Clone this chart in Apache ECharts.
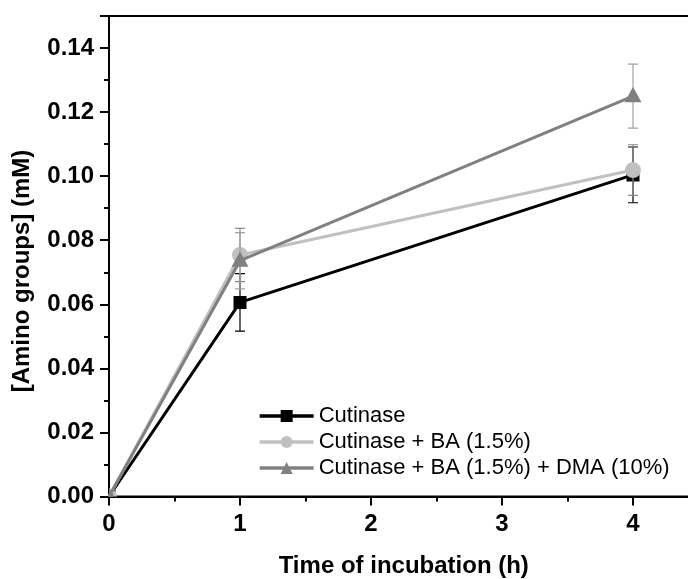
<!DOCTYPE html>
<html>
<head>
<meta charset="utf-8">
<script src="https://cdn.jsdelivr.net/npm/echarts@6/dist/echarts.min.js"></script>
<style>
  html, body { margin: 0; padding: 0; background: #fff; }
  #chart { width: 688px; height: 579px; }
</style>
</head>
<body>
<div id="chart"></div>
<script>
// Incubation time (h)
const hours = [0, 1, 4];

// Amino group concentration (mM) and error (±) for each condition
const cutinase = [0, 0.0606, 0.1004];
const cutinaseErr = [0, 0.0090, 0.0087];

const cutinaseBA = [0, 0.0754, 0.1019];
const cutinaseBAErr = [0, 0.0083, 0.0079];

const cutinaseBADMA = [0, 0.0736, 0.1250];
const cutinaseBADMAErr = [0, 0.0088, 0.0100];

const seriesNames = [
  'Cutinase',
  'Cutinase + BA (1.5%)',
  'Cutinase + BA (1.5%) + DMA (10%)'
];

const FONT = '"Liberation Sans", Arial, sans-serif';

const groups = [
  { name: seriesNames[0], values: cutinase, errs: cutinaseErr, color: '#000000', errColor: '#000000', symbol: 'rect', size: 13 },
  { name: seriesNames[1], values: cutinaseBA, errs: cutinaseBAErr, color: '#c0c0c0', errColor: '#8a8a8a', symbol: 'circle', size: 16 },
  { name: seriesNames[2], values: cutinaseBADMA, errs: cutinaseBADMAErr, color: '#808080', errColor: '#a0a0a0', symbol: 'triangle', size: 17 }
];

function pairs(values) {
  return hours.map((h, i) => [h, values[i]]);
}

// Error bars: vertical whisker with caps, drawn in data space
function errorBarSeries(g, z) {
  return {
    type: 'custom',
    name: g.name + ' error',
    z: z,
    silent: true,
    clip: true,
    data: hours.map((h, i) => [h, g.values[i], g.errs[i]]),
    renderItem: function (params, api) {
      const x = api.value(0), y = api.value(1), e = api.value(2);
      if (!e) return null;
      const top = api.coord([x, y + e]);
      const bot = api.coord([x, y - e]);
      const hw = 5;
      const style = { stroke: g.errColor, lineWidth: 1.2, fill: null };
      return {
        type: 'group',
        children: [
          { type: 'line', shape: { x1: top[0], y1: top[1], x2: bot[0], y2: bot[1] }, style: style },
          { type: 'line', shape: { x1: top[0] - hw, y1: top[1], x2: top[0] + hw, y2: top[1] }, style: style },
          { type: 'line', shape: { x1: bot[0] - hw, y1: bot[1], x2: bot[0] + hw, y2: bot[1] }, style: style }
        ]
      };
    }
  };
}

// Markers drawn as custom shapes so they are clipped to the plot area
function markerSeries(g, z) {
  return {
    type: 'custom',
    name: g.name + ' markers',
    z: z,
    silent: true,
    clip: true,
    data: pairs(g.values),
    renderItem: function (params, api) {
      const p = api.coord([api.value(0), api.value(1)]);
      const s = g.size;
      const style = { fill: g.color, stroke: null };
      if (g.symbol === 'rect') {
        return { type: 'rect', shape: { x: p[0] - s / 2, y: p[1] - s / 2, width: s, height: s }, style: style };
      }
      if (g.symbol === 'circle') {
        return { type: 'circle', shape: { cx: p[0], cy: p[1], r: s / 2 }, style: style };
      }
      const h = s * 0.9;
      return {
        type: 'polygon',
        shape: { points: [[p[0], p[1] - h * 0.6], [p[0] + s / 2, p[1] + h * 0.4], [p[0] - s / 2, p[1] + h * 0.4]] },
        style: style
      };
    }
  };
}

const series = [];
groups.forEach((g, i) => {
  const base = 2 + i * 3;
  series.push({
    type: 'line',
    name: g.name,
    data: pairs(g.values),
    z: base + 1,
    symbol: g.symbol,
    symbolSize: 12,
    showSymbol: false,
    clip: true,
    lineStyle: { color: g.color, width: 3 },
    itemStyle: { color: g.color },
    emphasis: { disabled: true },
    animation: false
  });
  series.push(errorBarSeries(g, base));
  series.push(markerSeries(g, base + 2));
});

const chart = echarts.init(document.getElementById('chart'), null, { renderer: 'canvas' });
chart.setOption({
  animation: false,
  backgroundColor: '#ffffff',
  grid: {
    left: 109,
    top: 16,
    width: 589.5,
    height: 480.5,
    outerBoundsMode: 'none',
    containLabel: false,
    show: true,
    borderColor: '#000',
    borderWidth: 2,
    backgroundColor: 'transparent'
  },
  legend: {
    orient: 'vertical',
    left: 258,
    top: 405,
    padding: 0,
    itemWidth: 54,
    itemHeight: 15,
    itemGap: 4,
    data: seriesNames,
    lineStyle: { width: 3.3 },
    textStyle: { fontFamily: FONT, fontSize: 22, color: '#000' },
    selectedMode: false
  },
  xAxis: {
    type: 'value',
    min: 0,
    max: 4.5,
    interval: 1,
    axisLine: { show: true, lineStyle: { color: '#000', width: 2 } },
    axisTick: { show: true, inside: false, length: 9, lineStyle: { color: '#000', width: 2 } },
    minorTick: { show: true, splitNumber: 2, length: 5, lineStyle: { color: '#000', width: 2 } },
    splitLine: { show: false },
    axisLabel: {
      margin: 16,
      fontFamily: FONT,
      fontSize: 24,
      fontWeight: 'bold',
      color: '#000',
      formatter: v => (Number.isInteger(v) ? String(v) : '')
    },
    name: 'Time of incubation (h)',
    nameLocation: 'middle',
    nameGap: 58,
    nameTextStyle: { fontFamily: FONT, fontSize: 24, fontWeight: 'bold', color: '#000' }
  },
  yAxis: {
    type: 'value',
    min: 0,
    max: 0.15,
    interval: 0.02,
    axisLine: { show: true, lineStyle: { color: '#000', width: 2 } },
    axisTick: { show: true, inside: false, length: 9, lineStyle: { color: '#000', width: 2 } },
    minorTick: { show: true, splitNumber: 2, length: 5, lineStyle: { color: '#000', width: 2 } },
    splitLine: { show: false },
    axisLabel: {
      margin: 15,
      fontFamily: FONT,
      fontSize: 24,
      fontWeight: 'bold',
      color: '#000',
      formatter: v => {
        const k = Math.round(v / 0.02);
        return Math.abs(k * 0.02 - v) < 1e-9 ? v.toFixed(2) : '';
      }
    }
  },
  graphic: [{
    type: 'text',
    x: 22,
    y: 271,
    rotation: Math.PI / 2,
    style: {
      text: '[Amino groups] (mM)',
      fontFamily: FONT,
      fontSize: 24,
      fontWeight: 'bold',
      fill: '#000',
      align: 'center',
      verticalAlign: 'middle'
    }
  }],
  series: series
});
</script>
</body>
</html>
